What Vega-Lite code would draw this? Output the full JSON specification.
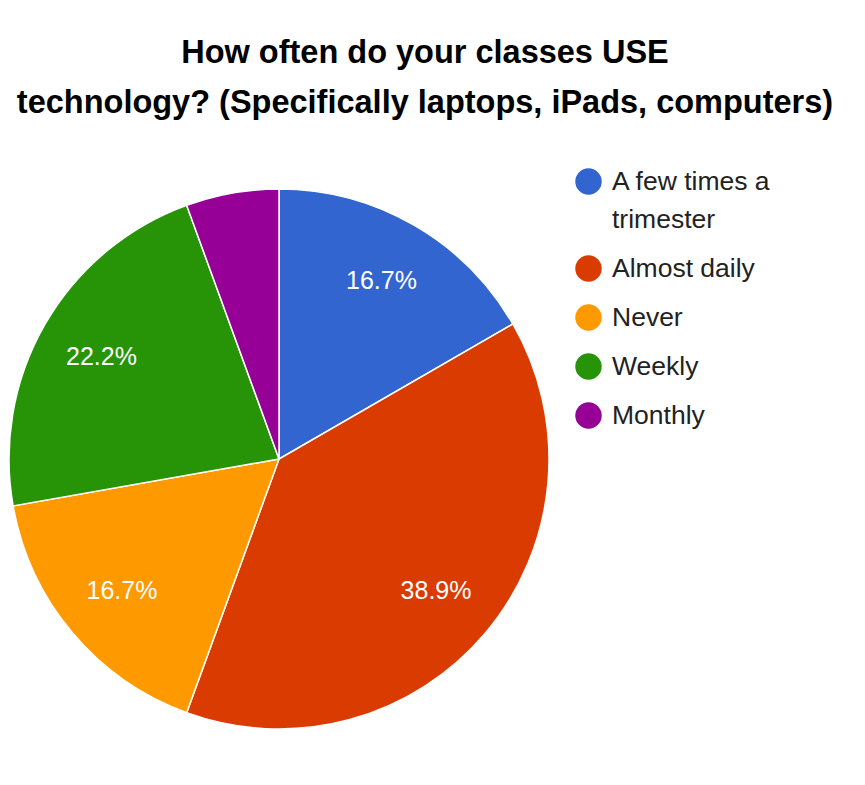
{
  "$schema": "https://vega.github.io/schema/vega-lite/v6.json",
  "autosize": {"type": "none"},
  "width": 540,
  "height": 640,
  "padding": {"left": 9, "top": 139, "right": 316, "bottom": 6},
  "background": "white",
  "title": {
    "text": ["How often do your classes USE", "technology? (Specifically laptops, iPads, computers)"],
    "font": "Liberation Sans",
    "fontSize": 32.5,
    "fontWeight": "bold",
    "color": "#000000",
    "lineHeight": 50,
    "anchor": "middle",
    "frame": "group",
    "dx": 146,
    "offset": 20
  },
  "config": {"style": {"guide-label": {"lineHeight": 38}}},
  "data": {
    "values": [
      {"category": "A few times a trimester", "count": 3, "pct": "16.7%", "index": 1},
      {"category": "Almost daily", "count": 7, "pct": "38.9%", "index": 2},
      {"category": "Never", "count": 3, "pct": "16.7%", "index": 3},
      {"category": "Weekly", "count": 4, "pct": "22.2%", "index": 4},
      {"category": "Monthly", "count": 1, "pct": "", "index": 5}
    ]
  },
  "encoding": {
    "theta": {"field": "count", "type": "quantitative", "stack": true},
    "order": {"field": "index", "type": "quantitative"},
    "color": {
      "field": "category",
      "type": "nominal",
      "sort": null,
      "scale": {
        "domain": ["A few times a trimester", "Almost daily", "Never", "Weekly", "Monthly"],
        "range": ["#3265d0", "#da3b01", "#ff9900", "#269406", "#970097"]
      },
      "legend": {
        "title": null,
        "orient": "none",
        "legendX": 566,
        "legendY": 29,
        "symbolType": "circle",
        "symbolSize": 700,
        "symbolStrokeWidth": 0,
        "labelFont": "Liberation Sans",
        "labelFontSize": 26.5,
        "labelColor": "#222222",
        "labelOffset": 10,
        "labelLimit": 300,
        "rowPadding": 22,
        "padding": 0,
        "labelExpr": "datum.label == 'A few times a trimester' ? ['A few times a', 'trimester'] : datum.label"
      }
    }
  },
  "layer": [
    {
      "mark": {"type": "arc", "stroke": "white", "strokeWidth": 1.5}
    },
    {
      "mark": {"type": "text", "radius": 205, "font": "Liberation Sans", "fontSize": 25, "color": "white"},
      "encoding": {
        "text": {"field": "pct", "type": "nominal"},
        "color": {"value": "white"}
      }
    }
  ]
}
